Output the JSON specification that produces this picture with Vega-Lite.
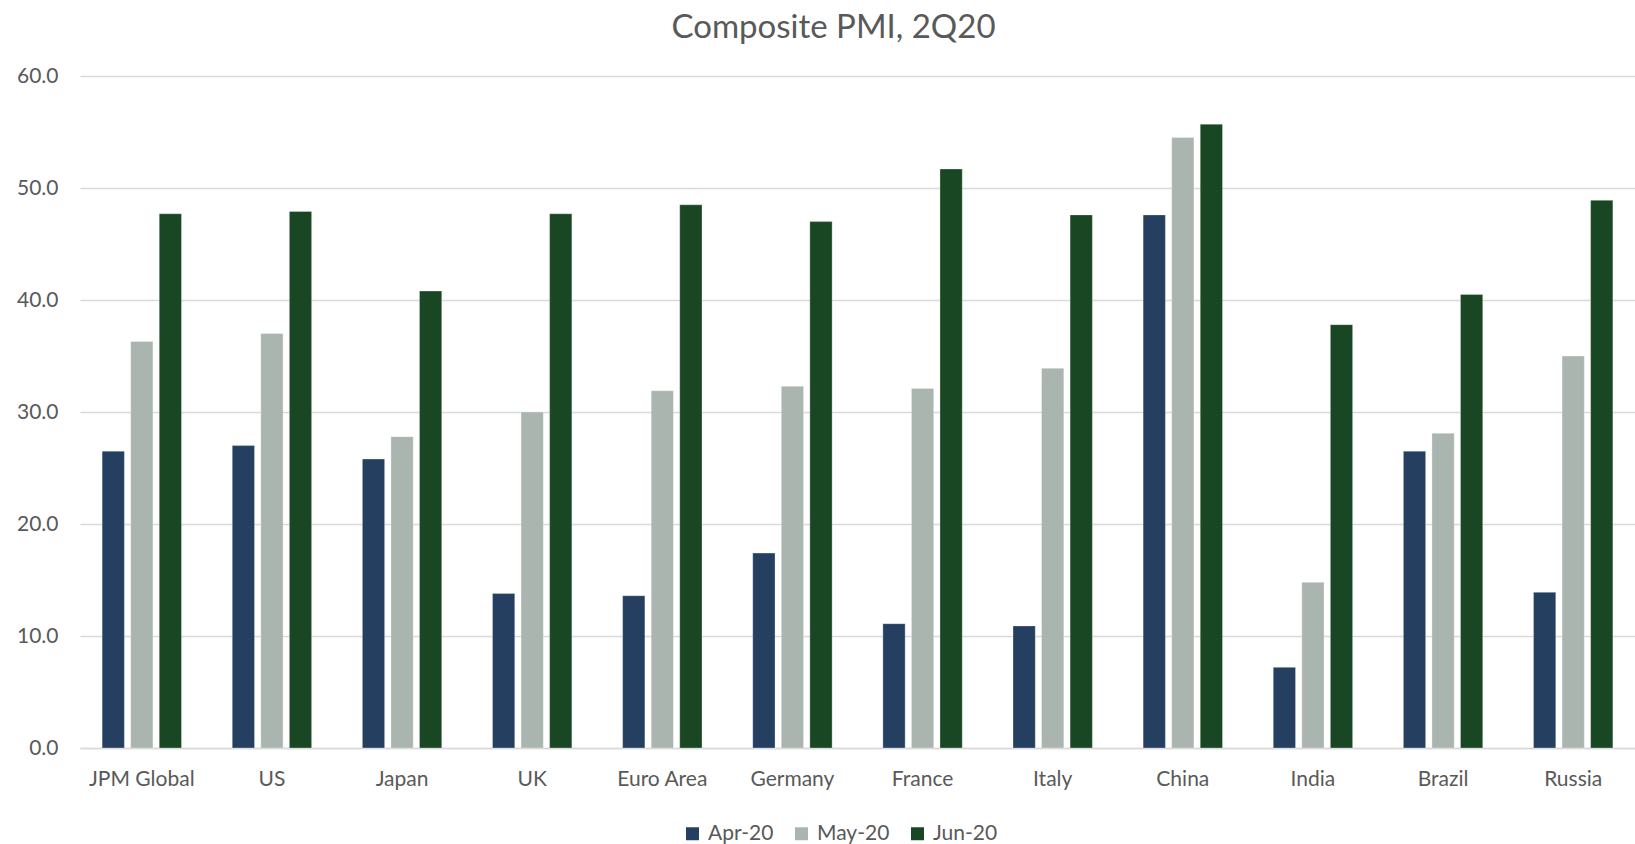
{
  "$schema": "https://vega.github.io/schema/vega-lite/v6.json",
  "autosize": "none",
  "width": 1555,
  "height": 672,
  "padding": {"left": 80, "top": 76, "right": 0, "bottom": 96},
  "background": "white",
  "title": {
    "text": "Composite PMI, 2Q20",
    "font": "Lato",
    "fontSize": 33,
    "fontWeight": "normal",
    "color": "#595959",
    "anchor": "middle",
    "dx": -24,
    "offset": 20
  },
  "data": {
    "values": [
      {"region": "JPM Global", "month": "Apr-20", "pmi": 26.5},
      {"region": "JPM Global", "month": "May-20", "pmi": 36.3},
      {"region": "JPM Global", "month": "Jun-20", "pmi": 47.7},
      {"region": "US", "month": "Apr-20", "pmi": 27.0},
      {"region": "US", "month": "May-20", "pmi": 37.0},
      {"region": "US", "month": "Jun-20", "pmi": 47.9},
      {"region": "Japan", "month": "Apr-20", "pmi": 25.8},
      {"region": "Japan", "month": "May-20", "pmi": 27.8},
      {"region": "Japan", "month": "Jun-20", "pmi": 40.8},
      {"region": "UK", "month": "Apr-20", "pmi": 13.8},
      {"region": "UK", "month": "May-20", "pmi": 30.0},
      {"region": "UK", "month": "Jun-20", "pmi": 47.7},
      {"region": "Euro Area", "month": "Apr-20", "pmi": 13.6},
      {"region": "Euro Area", "month": "May-20", "pmi": 31.9},
      {"region": "Euro Area", "month": "Jun-20", "pmi": 48.5},
      {"region": "Germany", "month": "Apr-20", "pmi": 17.4},
      {"region": "Germany", "month": "May-20", "pmi": 32.3},
      {"region": "Germany", "month": "Jun-20", "pmi": 47.0},
      {"region": "France", "month": "Apr-20", "pmi": 11.1},
      {"region": "France", "month": "May-20", "pmi": 32.1},
      {"region": "France", "month": "Jun-20", "pmi": 51.7},
      {"region": "Italy", "month": "Apr-20", "pmi": 10.9},
      {"region": "Italy", "month": "May-20", "pmi": 33.9},
      {"region": "Italy", "month": "Jun-20", "pmi": 47.6},
      {"region": "China", "month": "Apr-20", "pmi": 47.6},
      {"region": "China", "month": "May-20", "pmi": 54.5},
      {"region": "China", "month": "Jun-20", "pmi": 55.7},
      {"region": "India", "month": "Apr-20", "pmi": 7.2},
      {"region": "India", "month": "May-20", "pmi": 14.8},
      {"region": "India", "month": "Jun-20", "pmi": 37.8},
      {"region": "Brazil", "month": "Apr-20", "pmi": 26.5},
      {"region": "Brazil", "month": "May-20", "pmi": 28.1},
      {"region": "Brazil", "month": "Jun-20", "pmi": 40.5},
      {"region": "Russia", "month": "Apr-20", "pmi": 13.9},
      {"region": "Russia", "month": "May-20", "pmi": 35.0},
      {"region": "Russia", "month": "Jun-20", "pmi": 48.9}
    ]
  },
  "mark": {"type": "bar", "stroke": "white", "strokeOpacity": 0.5, "strokeWidth": 0.6},
  "encoding": {
    "x": {
      "field": "region",
      "type": "nominal",
      "sort": null,
      "scale": {"paddingInner": 0.39, "paddingOuter": 0.17},
      "axis": {
        "title": null,
        "labelAngle": 0,
        "labelFont": "Lato",
        "labelFontSize": 21,
        "labelColor": "#595959",
        "labelPadding": 20,
        "ticks": false,
        "domain": true,
        "domainColor": "#D9D9D9",
        "domainWidth": 1.5
      }
    },
    "xOffset": {
      "field": "month",
      "type": "nominal",
      "sort": ["Apr-20", "May-20", "Jun-20"],
      "scale": {"paddingInner": 0.22, "paddingOuter": 0}
    },
    "y": {
      "field": "pmi",
      "type": "quantitative",
      "scale": {"domain": [0, 60], "nice": false},
      "axis": {
        "title": null,
        "values": [0, 10, 20, 30, 40, 50, 60],
        "format": ".1f",
        "labelFont": "Lato",
        "labelFontSize": 21,
        "labelColor": "#595959",
        "labelPadding": 22,
        "ticks": false,
        "domain": false,
        "grid": true,
        "gridColor": "#D9D9D9",
        "gridWidth": 1.5
      }
    },
    "color": {
      "field": "month",
      "type": "nominal",
      "sort": ["Apr-20", "May-20", "Jun-20"],
      "scale": {
        "domain": ["Apr-20", "May-20", "Jun-20"],
        "range": ["#253F61", "#ABB5B0", "#1A4723"]
      },
      "legend": {
        "title": null,
        "orient": "none",
        "direction": "horizontal",
        "legendX": 602,
        "legendY": 747,
        "symbolType": "square",
        "symbolSize": 169,
        "symbolStrokeWidth": 0,
        "labelFont": "Lato",
        "labelFontSize": 21,
        "labelColor": "#595959",
        "labelOffset": 5,
        "columnPadding": 17
      }
    }
  },
  "config": {
    "view": {"stroke": null}
  }
}
